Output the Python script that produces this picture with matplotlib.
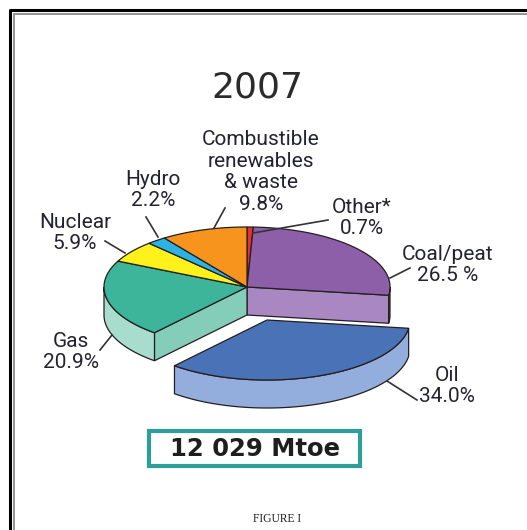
import numpy as np
import matplotlib
matplotlib.use('Agg')
import matplotlib.pyplot as plt
from matplotlib.patches import Polygon, Rectangle

# ============ 数据 ============
names = ['Other*', 'Coal/peat', 'Oil', 'Gas', 'Nuclear', 'Hydro',
         'Combustible\nrenewables\n& waste']
shares = [0.7, 26.5, 34.0, 20.9, 5.9, 2.2, 9.8]
share_text = ['0.7%', '26.5 %', '34.0%', '20.9%', '5.9%', '2.2%', '9.8%']
total_text = '12 029 Mtoe'
year = '2007'

# ============ 样式 ============
top_colors = ['#E8312A', '#8C5FA8', '#4A72B6', '#3DB59A', '#FFF11C', '#2BB3E6', '#F7941D']
side_colors = ['#C0241E', '#A987C2', '#93AEDC', '#A8DCCD', '#E0D000', '#1F8FBB', '#D47A10']
face_colors = ['#C0241E', '#A987C2', '#93AEDC', '#84CDB8', '#E0D000', '#1F8FBB', '#D47A10']
EXPLODE = {2: (20, 33)}          # Oil 拉出 (像素)
CX, CY, RA, RB, DEPTH = 247, 287, 143, 60, 28
EDGE = '#231F20'
TXT = '#23232F'
LABEL_FONT = ['Roboto', 'DejaVu Sans']

# 标签位置 (文本中心) 和引线
label_pos = [(362, 218), (448, 265), (447, 386), (71, 352), (75, 233), (153, 190), (261, 172)]
leaders = [((328, 220), (253, 233)), ((410, 268), (390, 278)), ((387, 381), (417, 400)),
           ((112, 335), (100, 350)), ((105, 241), (125, 253)), ((146, 217), (158, 237)),
           ((225, 208), (214, 228))]


def pt(phi, off=(0, 0), down=0):
    t = np.radians(phi)
    return CX + RA * np.sin(t) + off[0], CY - RB * np.cos(t) + off[1] + down


def arc(p1, p2, off=(0, 0), down=0):
    ph = np.linspace(p1, p2, max(int(abs(p2 - p1)) * 2, 2))
    xs, ys = pt(ph, off, down)
    return list(zip(xs, ys))


fig = plt.figure(figsize=(5.27, 5.30), dpi=100)
ax = fig.add_axes([0, 0, 1, 1])
ax.set_xlim(0, 527)
ax.set_ylim(530, 0)
ax.axis('off')

# 边框 (只有上和左)
ax.plot([9.8, 9.8, 527], [530, 9.8, 9.8], color='black', lw=2.2, solid_capstyle='butt')
ax.plot([13.6, 13.6, 527], [530, 13.6, 13.6], color='#8a8a8a', lw=1.3, solid_capstyle='butt')

# 角度
bounds = np.concatenate([[0], np.cumsum(shares)]) * 3.6
n = len(shares)


def draw_sides(i, off):
    p1, p2 = bounds[i], bounds[i + 1]
    c = (CX + off[0], CY + off[1])
    # 径向切面 (相邻被拉出的扇区)
    if (i + 1) % n in EXPLODE and i not in EXPLODE:
        e = pt(p2, off)
        ax.add_patch(Polygon([c, e, (e[0], e[1] + DEPTH), (c[0], c[1] + DEPTH)],
                             closed=True, fc=face_colors[i], ec=EDGE, lw=0.9))
    if (i - 1) % n in EXPLODE and i not in EXPLODE:
        e = pt(p1, off)
        ax.add_patch(Polygon([c, e, (e[0], e[1] + DEPTH), (c[0], c[1] + DEPTH)],
                             closed=True, fc=face_colors[i], ec=EDGE, lw=0.9))
    # 外侧弧面
    a1, a2 = max(p1, 90), min(p2, 270)
    if a2 > a1:
        poly = arc(a1, a2, off) + arc(a2, a1, off, DEPTH)
        ax.add_patch(Polygon(poly, closed=True, fc=side_colors[i], ec=EDGE, lw=0.9))


def draw_top(i, off):
    c = (CX + off[0], CY + off[1])
    poly = [c] + arc(bounds[i], bounds[i + 1], off)
    ax.add_patch(Polygon(poly, closed=True, fc=top_colors[i], ec=EDGE, lw=0.9))


rest = [i for i in range(n) if i not in EXPLODE]
for i in rest:
    draw_sides(i, (0, 0))
for i in rest:
    draw_top(i, (0, 0))
for i, off in EXPLODE.items():
    draw_sides(i, off)
    draw_top(i, off)

# 标签
for i in range(n):
    x, y = label_pos[i]
    ax.text(x, y, f'{names[i]}\n{share_text[i]}', ha='center', va='center',
            fontsize=15, color=TXT, family=LABEL_FONT, linespacing=1.17)
    (x1, y1), (x2, y2) = leaders[i]
    ax.plot([x1, x2], [y1, y2], color='#333333', lw=1.2)

ax.text(257, 87, year, ha='center', va='center', fontsize=26, color='#2B2B2B')

ax.add_patch(Rectangle((149, 431), 211, 35, fc='white', ec='#2E9E9B', lw=3))
ax.text(255, 449, total_text, ha='center', va='center', fontsize=17.5,
        fontweight='bold', color='#1E1E1E')

ax.text(277, 519, 'FIGURE I', ha='center', va='center', fontsize=8.3,
        family='Liberation Serif', color='#222222')

plt.savefig('out.png', dpi=100)
plt.close()
